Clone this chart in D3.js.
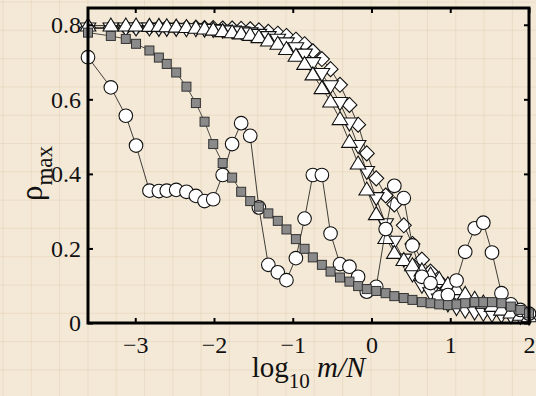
<!DOCTYPE html>
<html>
<head>
<meta charset="utf-8">
<script src="https://cdn.jsdelivr.net/npm/d3@7"></script>
<style>
  html, body { margin: 0; padding: 0; background: #f4e9d6; }
  svg { display: block; }
  text { font-family: "Liberation Serif", "DejaVu Serif", serif; fill: #111; }
</style>
</head>
<body>
<div id="chart"></div>
<script>
var width = 536, height = 396
var margin = {top: 8, right: 7, bottom: 73, left: 88}

// log10 m/N positions shared by every series
var xGrid = [-3.6, -3.31, -3.12, -2.99, -2.82, -2.70, -2.60, -2.48, -2.35, -2.23, -2.12, -2.01,
  -1.89, -1.77, -1.655, -1.54, -1.43, -1.31, -1.19, -1.08, -0.96, -0.85, -0.745, -0.63, -0.52,
  -0.40, -0.28, -0.17, -0.06, 0.06, 0.18, 0.29, 0.41, 0.52, 0.64, 0.75, 0.86, 0.97, 1.08, 1.19,
  1.31, 1.42, 1.53, 1.65, 1.77, 1.89, 2.0]

var circleY = [0.713, 0.632, 0.556, 0.476, 0.355, 0.354, 0.355, 0.357, 0.352, 0.341, 0.327, 0.332,
  0.397, 0.480, 0.536, 0.502, 0.310, 0.156, 0.136, 0.115, 0.174, 0.280, 0.397, 0.397, 0.240,
  0.158, 0.151, 0.124, 0.084, 0.097, 0.252, 0.368, 0.335, 0.208, 0.124, 0.107, 0.069, 0.075, 0.114,
  0.191, 0.254, 0.269, 0.189, 0.080, 0.050, 0.035, 0.025]

var squareY = [0.779, 0.770, 0.762, 0.749, 0.731, 0.712, 0.695, 0.672, 0.634, 0.590, 0.540, 0.480,
  0.429, 0.390, 0.352, 0.327, 0.312, 0.294, 0.274, 0.251, 0.225, 0.199, 0.176, 0.156, 0.138,
  0.122, 0.111, 0.099, 0.091, 0.086, 0.080, 0.072, 0.067, 0.062, 0.056, 0.053, 0.050, 0.048, 0.050,
  0.053, 0.056, 0.056, 0.056, 0.053, 0.044, 0.035, 0.026]

var diamondY = [0.793, 0.793, 0.793, 0.793, 0.793, 0.793, 0.793, 0.792, 0.792, 0.792, 0.791, 0.791,
  0.790, 0.790, 0.789, 0.788, 0.785, 0.781, 0.776, 0.770, 0.760, 0.748, 0.729, 0.708, 0.681,
  0.639, 0.585, 0.532, 0.455, 0.388, 0.342, 0.318, 0.262, 0.212, 0.170, 0.138, 0.112, 0.092, 0.077,
  0.065, 0.055, 0.047, 0.041, 0.036, 0.031, 0.026, 0.022]

var upTriY = [0.798, 0.798, 0.798, 0.798, 0.797, 0.797, 0.796, 0.795, 0.794, 0.792, 0.790, 0.787,
  0.783, 0.780, 0.777, 0.773, 0.767, 0.758, 0.749, 0.735, 0.717, 0.695, 0.667, 0.630, 0.594,
  0.547, 0.486, 0.428, 0.358, 0.292, 0.228, 0.188, 0.169, 0.155, 0.141, 0.130, 0.118, 0.104, 0.091,
  0.078, 0.065, 0.055, 0.046, 0.036, 0.028, 0.022, 0.018]

var downTriY = [0.790, 0.790, 0.790, 0.790, 0.790, 0.789, 0.789, 0.789, 0.788, 0.788, 0.787, 0.786,
  0.784, 0.782, 0.780, 0.777, 0.773, 0.767, 0.760, 0.750, 0.737, 0.720, 0.697, 0.668, 0.635,
  0.590, 0.535, 0.475, 0.405, 0.335, 0.265, 0.218, 0.170, 0.130, 0.100, 0.080, 0.063, 0.050, 0.040,
  0.033, 0.028, 0.025, 0.022, 0.020, 0.018, 0.016, 0.014]

var xTicks = [-3, -2, -1, 0, 1, 2]
var yTicks = [0, 0.2, 0.4, 0.6, 0.8]

var svg = d3.select("#chart").append("svg")
  .attr("width", width)
  .attr("height", height)

// parchment background with faint grid
svg.append("rect").attr("width", width).attr("height", height).attr("fill", "#f4e9d6")
var bg = svg.append("g").attr("stroke", "#b89c74").attr("stroke-opacity", 0.16).attr("stroke-width", 1)
bg.selectAll(".gv").data(d3.range(3, width, 28.3)).enter().append("line")
  .attr("x1", d => d).attr("x2", d => d).attr("y1", 0).attr("y2", height)
bg.selectAll(".gh").data(d3.range(2, height, 28.3)).enter().append("line")
  .attr("y1", d => d).attr("y2", d => d).attr("x1", 0).attr("x2", width)

var x = d3.scaleLinear().domain([-3.6, 2]).range([margin.left, width - margin.right])
var y = d3.scaleLinear().domain([0, 0.845]).range([height - margin.bottom, margin.top])

var line = d3.line().x(d => x(d[0])).y(d => y(d[1]))
function pts(ys) { return xGrid.map((v, i) => [v, ys[i]]) }

var shapes = {
  diamond: "M0,-7.5L7.5,0L0,7.5L-7.5,0Z",
  up: "M0,-7.5L7.8,5.5L-7.8,5.5Z",
  down: "M0,7.5L7.8,-5.5L-7.8,-5.5Z"
}

function drawPathSeries(ys, shape) {
  var data = pts(ys)
  svg.append("path").datum(data).attr("d", line)
    .attr("fill", "none").attr("stroke", "#111").attr("stroke-width", 0.8)
  svg.append("g").selectAll("path").data(data).enter().append("path")
    .attr("d", shapes[shape])
    .attr("transform", d => "translate(" + x(d[0]) + "," + y(d[1]) + ")")
    .attr("fill", "#fff").attr("stroke", "#111").attr("stroke-width", 1.1)
}

drawPathSeries(diamondY, "diamond")
drawPathSeries(downTriY, "down")
drawPathSeries(upTriY, "up")

// circles
var cData = pts(circleY)
svg.append("path").datum(cData).attr("d", line)
  .attr("fill", "none").attr("stroke", "#111").attr("stroke-width", 0.8)
svg.append("g").selectAll("circle").data(cData).enter().append("circle")
  .attr("cx", d => x(d[0])).attr("cy", d => y(d[1])).attr("r", 6.8)
  .attr("fill", "#fff").attr("stroke", "#111").attr("stroke-width", 1.1)

// grey squares
var sData = pts(squareY)
svg.append("path").datum(sData).attr("d", line)
  .attr("fill", "none").attr("stroke", "#222").attr("stroke-width", 0.8)
svg.append("g").selectAll("rect").data(sData).enter().append("rect")
  .attr("x", d => x(d[0]) - 4.5).attr("y", d => y(d[1]) - 4.5)
  .attr("width", 9).attr("height", 9)
  .attr("fill", "#8a8a8a").attr("stroke", "#333").attr("stroke-width", 1)

// axes, ticks inward on all four sides
var x0 = x.range()[0], x1 = x.range()[1], y0 = y.range()[0], y1 = y.range()[1]
var axes = svg.append("g")
axes.append("g").attr("transform", "translate(0," + y0 + ")")
  .call(d3.axisBottom(x).tickValues(xTicks).tickSizeInner(-5).tickSizeOuter(0).tickPadding(13)
    .tickFormat(d3.format("d")))
axes.append("g").attr("transform", "translate(0," + y1 + ")")
  .call(d3.axisTop(x).tickValues(xTicks).tickSizeInner(-5).tickSizeOuter(0).tickFormat(""))
axes.append("g").attr("transform", "translate(" + x0 + ",0)")
  .call(d3.axisLeft(y).tickValues(yTicks).tickSizeInner(-5).tickSizeOuter(0).tickPadding(7)
    .tickFormat(d => d === 0 ? "0" : d3.format(".1f")(d)))
axes.append("g").attr("transform", "translate(" + x1 + ",0)")
  .call(d3.axisRight(y).tickValues(yTicks).tickSizeInner(-5).tickSizeOuter(0).tickFormat(""))
axes.selectAll("g").attr("font-family", null).attr("font-size", null)
axes.selectAll(".domain").remove()
axes.selectAll(".tick line").attr("stroke", "#000").attr("stroke-width", 2)
axes.selectAll(".tick text")
  .style("font-family", "'Liberation Serif', serif")
  .style("font-size", "24px").attr("fill", "#111")

svg.append("rect")
  .attr("x", x0).attr("y", y1).attr("width", x1 - x0).attr("height", y0 - y1)
  .attr("fill", "none").attr("stroke", "#000").attr("stroke-width", 3)

// axis titles
var xt = svg.append("text").attr("x", (x0 + x1) / 2).attr("y", 377)
  .attr("text-anchor", "middle").style("font-size", "29px")
xt.append("tspan").text("log")
xt.append("tspan").attr("dy", 11).style("font-size", "21px").text("10")
xt.append("tspan").attr("dy", -11).text(" ")
xt.append("tspan").style("font-style", "italic").text("m/N")

var yt = svg.append("text").attr("transform", "translate(42," + ((y0 + y1) / 2 + 8) + ") rotate(-90)")
  .attr("text-anchor", "middle").style("font-size", "31px")
yt.append("tspan").text("ρ")
yt.append("tspan").attr("dy", 10).style("font-size", "23px").text("max")
</script>
</body>
</html>
